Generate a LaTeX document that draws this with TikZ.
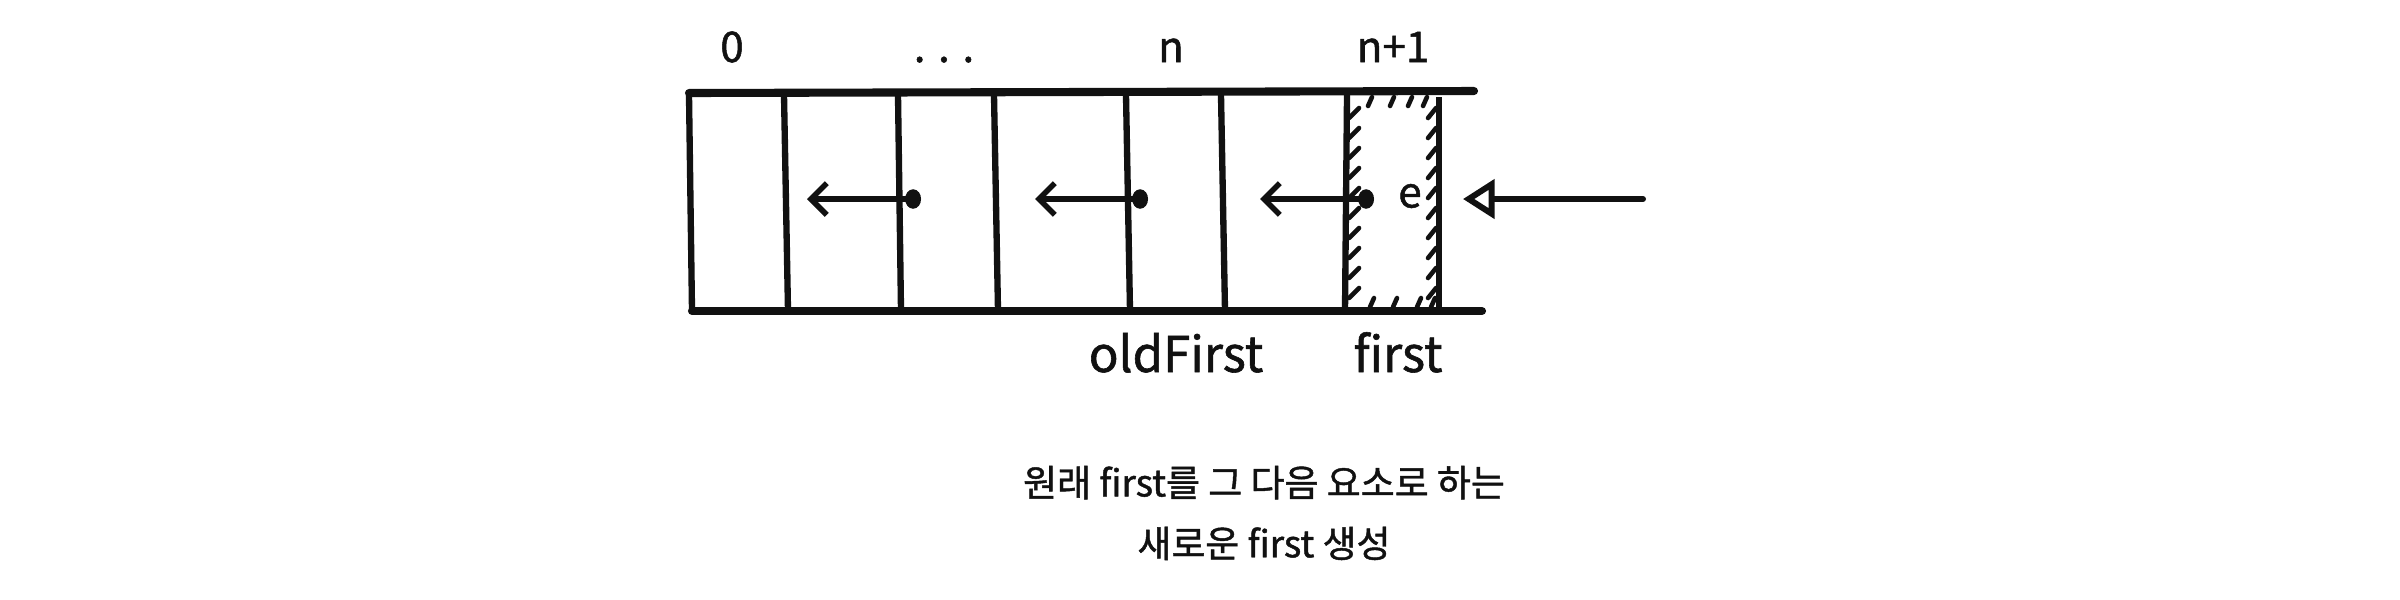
\documentclass[tikz,border=0pt]{standalone}
\usepackage{fontspec}
\usepackage{xcolor}
\usetikzlibrary{arrows.meta}
\setmainfont{Noto Sans CJK KR}[FakeBold=1.2]
\definecolor{inkblack}{HTML}{111111}

\tikzset{
  idx/.style={inkblack, anchor=base, inner sep=0pt, font=\fontsize{12}{14}\selectfont},
  varlabel/.style={inkblack, anchor=base, inner sep=0pt, font=\fontsize{14}{16}\selectfont},
  ptr/.style={inkblack, line width=1.6pt, line cap=round,
    {Circle[length=4.5pt,width=5.5pt]}-{Straight Barb[length=4.5pt,width=9pt]}},
  hatch/.style={inkblack, line width=1.3pt, line cap=round}
}

\begin{document}
\begin{tikzpicture}[x=0.01cm, y=-0.01cm]
  \useasboundingbox (0,0) rectangle (2400,599);
  % rails
  \draw[inkblack, line width=2.3pt, line cap=round] (689,93) -- (1474,91);
  \draw[inkblack, line width=2.3pt, line cap=round] (692,311) -- (1482,311);
  % cell walls
  \foreach \xt/\xb in {689/692, 784/788, 898/901, 994/998, 1126/1130, 1221/1225, 1347/1345} {
    \draw[inkblack, line width=1.8pt] (\xt,95) -- (\xb,311);
  }
  \draw[inkblack, line width=1.8pt] (1439,97) -- (1439,309);
  % hatching of the new cell
  \foreach \y in {113,133,...,293} {
    \draw[hatch] (1349,\y+5) -- (1359,\y-5);
    \draw[hatch] (1428,\y+5) -- (1436,\y-5);
  }
  \foreach \x in {1368,1390,1408,1423} {
    \draw[hatch] (\x,106) -- (\x+4,97);
  }
  \foreach \x in {1370,1393,1417,1431} {
    \draw[hatch] (\x,307) -- (\x+4,298);
  }
  % indices
  \node[idx] (i0) at (732,62) {0};
  \node[idx] (idots) at (944,62) {. . .};
  \node[idx] (in) at (1171,62) {n};
  \node[idx] (in1) at (1393,62) {n+1};
  \node[idx, anchor=center] (elem) at (1410,196) {e};
  % links
  \coordinate (t1) at (921,199); \coordinate (h1) at (807,199);
  \coordinate (t2) at (1148,199); \coordinate (h2) at (1035,199);
  \coordinate (t3) at (1374,199); \coordinate (h3) at (1260,199);
  \draw[ptr] (t1) -- (h1);
  \draw[ptr] (t2) -- (h2);
  \draw[ptr] (t3) -- (h3);
  % insertion
  \coordinate (src) at (1643,199); \coordinate (dst) at (1463,199);
  \draw[inkblack, line width=1.7pt, line cap=round,
    -{Triangle[open, length=9pt, width=11pt]}] (src) -- (dst);
  % labels
  \node[varlabel] (oldfirst) at (1176,372) {oldFirst};
  \node[varlabel] (first) at (1398,372) {first};
  \node[inkblack, align=center, inner sep=0pt, font=\fontsize{10.5}{17.3}\selectfont]
    (caption) at (1264,513) {원래 first를 그 다음 요소로 하는\\새로운 first 생성};
\end{tikzpicture}
\end{document}
